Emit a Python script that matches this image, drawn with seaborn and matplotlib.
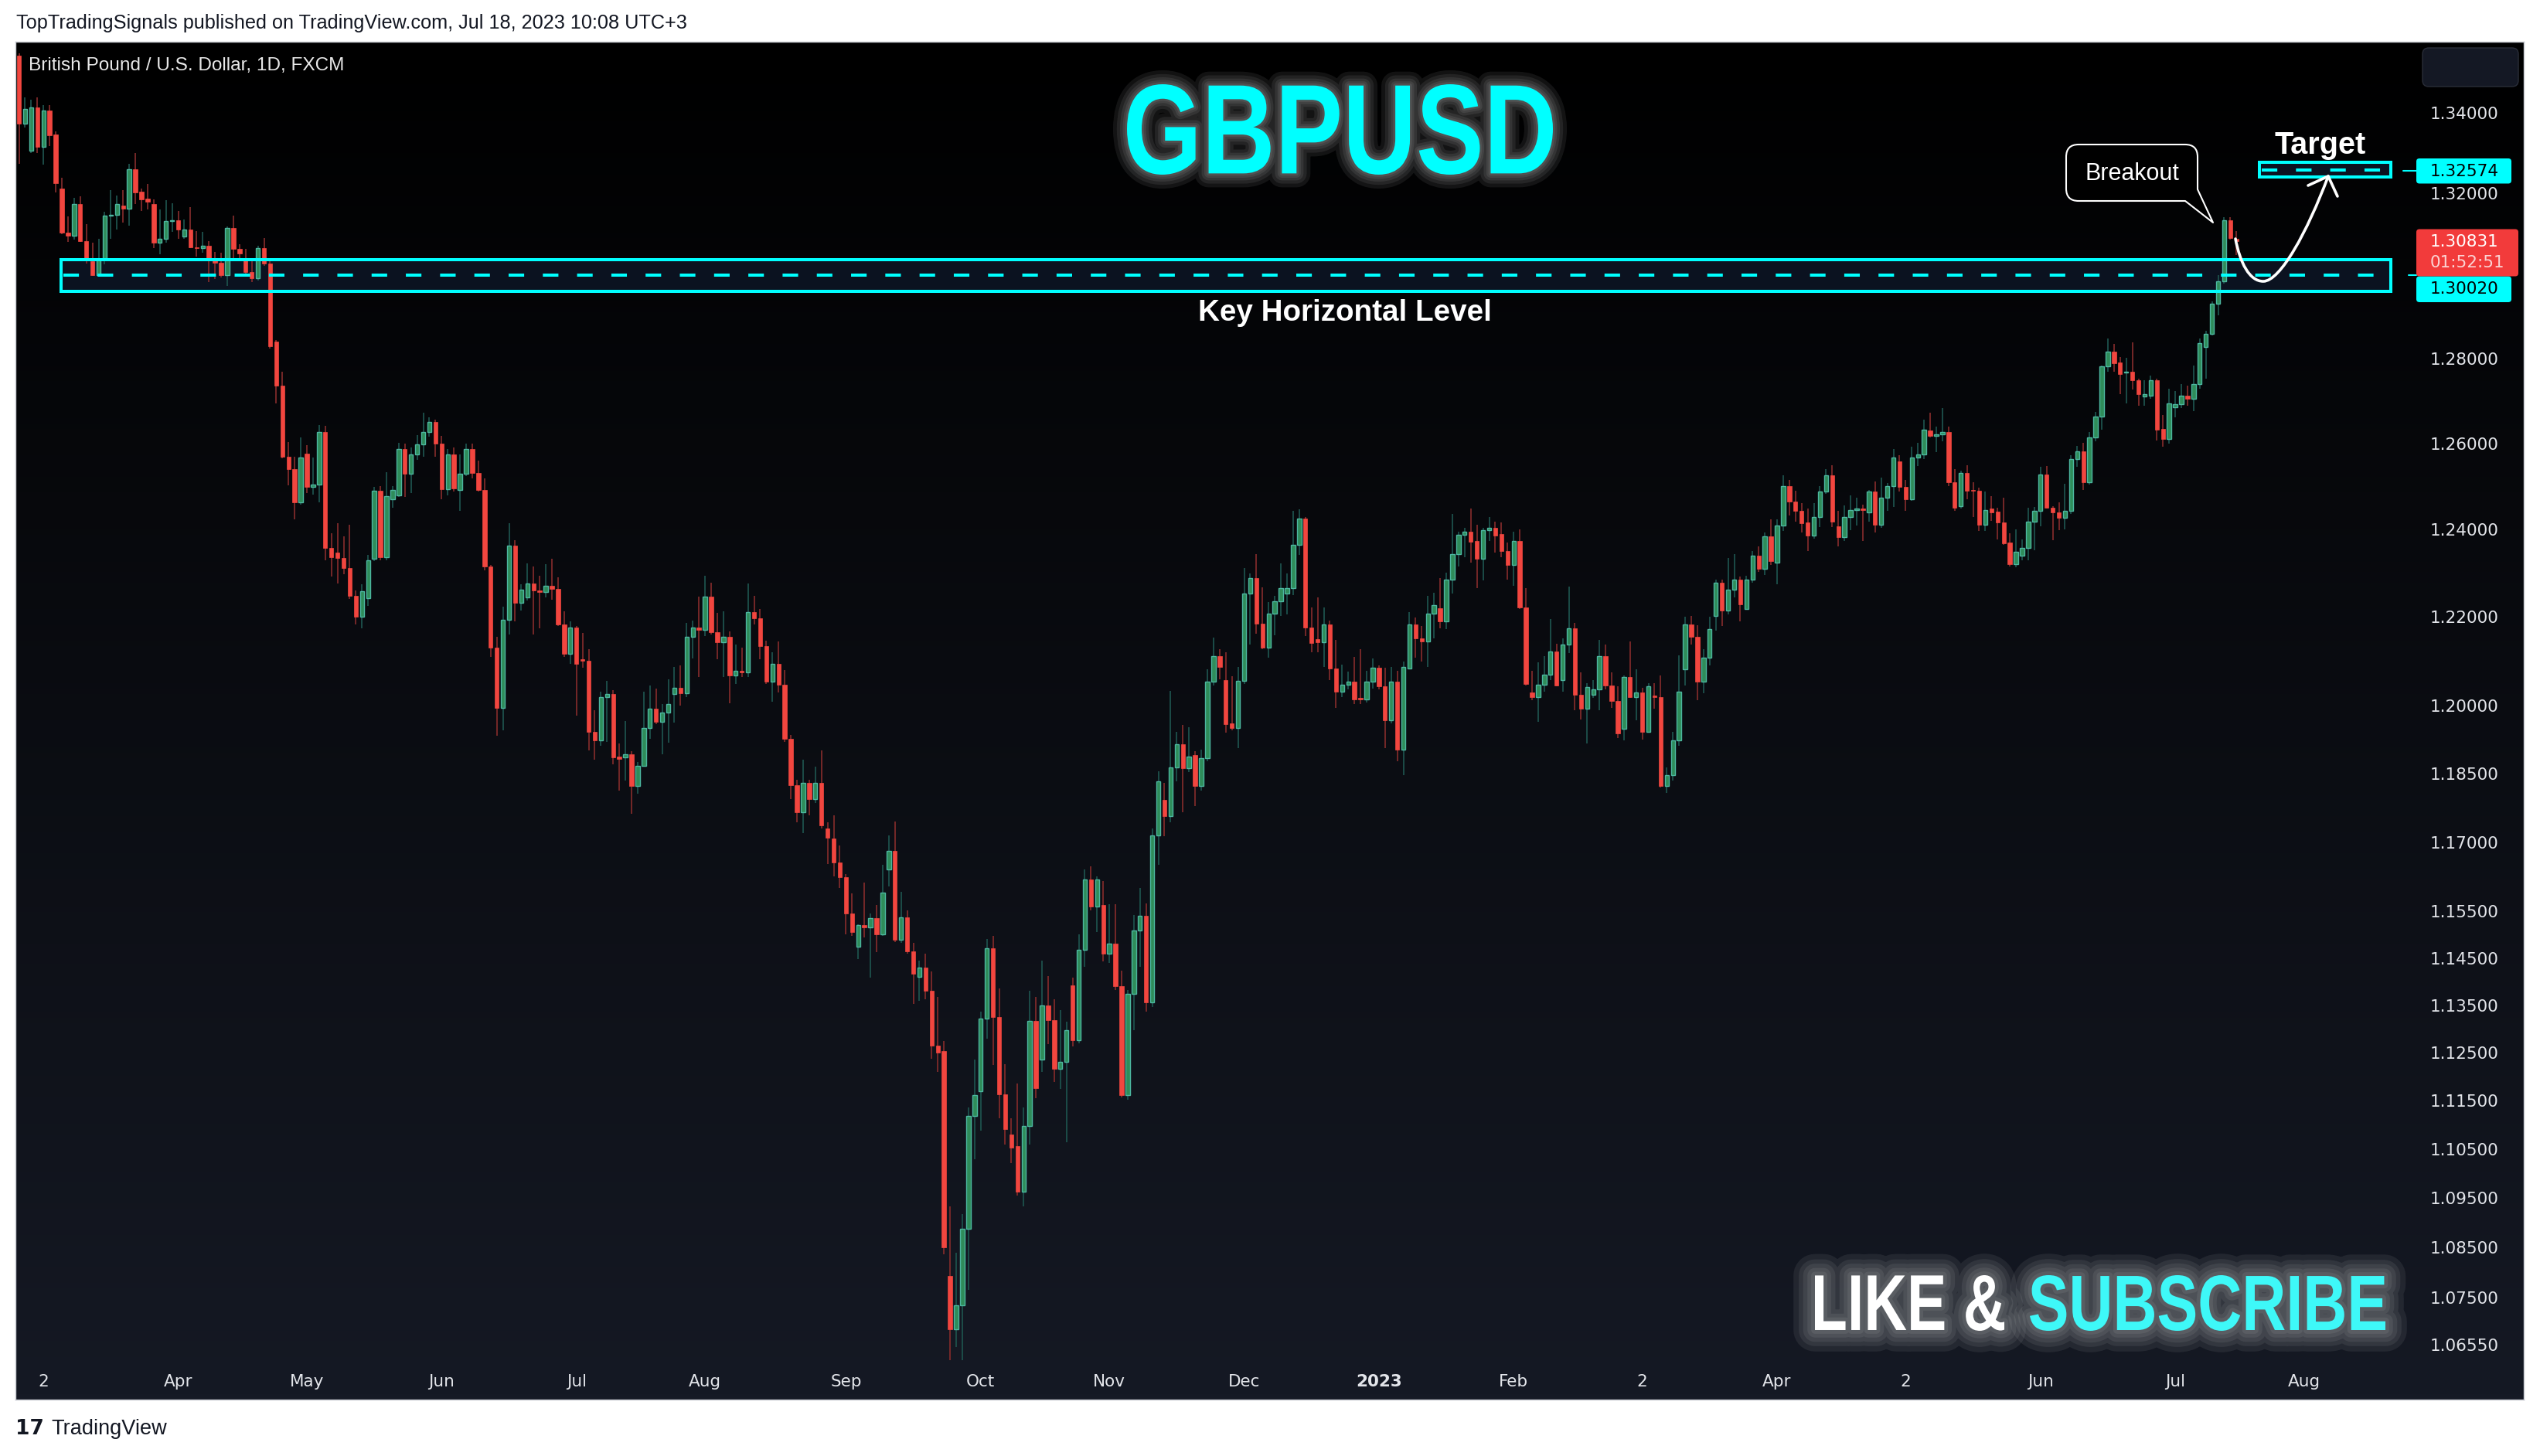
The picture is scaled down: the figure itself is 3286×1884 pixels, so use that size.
import numpy as np
import pandas as pd
import matplotlib
matplotlib.use("Agg")
import matplotlib.pyplot as plt
import seaborn as sns
from matplotlib.colors import LinearSegmentedColormap
from matplotlib.patches import Rectangle, FancyBboxPatch, PathPatch
from matplotlib.path import Path
from matplotlib.textpath import TextPath
from matplotlib.font_manager import FontProperties
from matplotlib.transforms import Affine2D

W, H = 3286, 1884

# ---- daily GBPUSD candles (FXCM), first candle 2022-02-24 ----
first_day = "2022-02-24"

open_ = [
    1.3542, 1.3372, 1.3306, 1.3414, 1.3316, 1.3405, 1.3345, 1.3213, 1.3105, 1.3097,
    1.3175, 1.3084, 1.3034, 1.3002, 1.3041, 1.3146, 1.3148, 1.3170, 1.3162, 1.3260,
    1.3204, 1.3187, 1.3175, 1.3079, 1.3090, 1.3132, 1.3134, 1.3095, 1.3112, 1.3069,
    1.3067, 1.3072, 1.3036, 1.3032, 1.3001, 1.3116, 1.3065, 1.3041, 1.3008, 1.2994,
    1.3067, 1.3029, 1.2842, 1.2737, 1.2570, 1.2540, 1.2464, 1.2577, 1.2499, 1.2504,
    1.2628, 1.2357, 1.2348, 1.2335, 1.2312, 1.2249, 1.2200, 1.2243, 1.2333, 1.2490,
    1.2337, 1.2470, 1.2480, 1.2587, 1.2529, 1.2575, 1.2598, 1.2627, 1.2650, 1.2600,
    1.2494, 1.2575, 1.2492, 1.2529, 1.2587, 1.2531, 1.2492, 1.2315, 1.2131, 1.1996,
    1.2193, 1.2364, 1.2232, 1.2245, 1.2276, 1.2260, 1.2257, 1.2271, 1.2264, 1.2183,
    1.2117, 1.2176, 1.2104, 1.2101, 1.1943, 1.1923, 1.2020, 1.2027, 1.1887, 1.1885,
    1.1893, 1.1823, 1.1867, 1.1950, 1.1993, 1.1965, 1.1985, 1.2026, 1.2040, 1.2029,
    1.2155, 1.2176, 1.2171, 1.2246, 1.2165, 1.2143, 1.2155, 1.2068, 1.2078, 1.2075,
    1.2211, 1.2197, 1.2134, 1.2054, 1.2094, 1.2048, 1.1926, 1.1825, 1.1765, 1.1829,
    1.1794, 1.1829, 1.1730, 1.1707, 1.1655, 1.1624, 1.1546, 1.1475, 1.1520, 1.1516,
    1.1535, 1.1500, 1.1641, 1.1681, 1.1490, 1.1538, 1.1464, 1.1410, 1.1430, 1.1381,
    1.1265, 1.1254, 1.0793, 1.0687, 1.0734, 1.0888, 1.1119, 1.1170, 1.1322, 1.1471,
    1.1326, 1.1163, 1.1080, 1.1056, 1.0963, 1.1098, 1.1317, 1.1236, 1.1350, 1.1319,
    1.1217, 1.1232, 1.1392, 1.1276, 1.1468, 1.1618, 1.1560, 1.1563, 1.1460, 1.1481,
    1.1391, 1.1162, 1.1374, 1.1509, 1.1541, 1.1356, 1.1715, 1.1792, 1.1756, 1.1864,
    1.1914, 1.1862, 1.1891, 1.1823, 1.1884, 1.2054, 1.2112, 1.2058, 1.1961, 1.1951,
    1.2056, 1.2253, 1.2289, 1.2185, 1.2130, 1.2208, 1.2236, 1.2253, 1.2265, 1.2365,
    1.2426, 1.2177, 1.2150, 1.2143, 1.2183, 1.2084, 1.2031, 1.2048, 1.2054, 1.2018,
    1.2015, 1.2054, 1.2086, 1.2044, 1.1968, 1.2054, 1.1903, 1.2084, 1.2183, 1.2151,
    1.2145, 1.2207, 1.2220, 1.2190, 1.2285, 1.2344, 1.2388, 1.2396, 1.2373, 1.2333,
    1.2398, 1.2405, 1.2389, 1.2350, 1.2318, 1.2374, 1.2222, 1.2030, 1.2019, 1.2047,
    1.2070, 1.2122, 1.2058, 1.2137, 1.2175, 1.2025, 1.1993, 1.2025, 1.2037, 1.2112,
    1.2045, 1.2011, 1.1949, 1.2064, 1.2020, 1.2030, 1.1943, 1.2024, 1.2019, 1.1823,
    1.1846, 1.1923, 1.2082, 1.2183, 1.2156, 1.2055, 1.2109, 1.2202, 1.2279, 1.2215,
    1.2262, 1.2285, 1.2219, 1.2286, 1.2341, 1.2310, 1.2385, 1.2325, 1.2410, 1.2501,
    1.2465, 1.2443, 1.2417, 1.2387, 1.2429, 1.2489, 1.2526, 1.2408, 1.2383, 1.2429,
    1.2445, 1.2449, 1.2440, 1.2489, 1.2411, 1.2473, 1.2500, 1.2559, 1.2499, 1.2471,
    1.2567, 1.2575, 1.2631, 1.2619, 1.2621, 1.2627, 1.2510, 1.2454, 1.2531, 1.2492,
    1.2490, 1.2412, 1.2449, 1.2441, 1.2416, 1.2370, 1.2321, 1.2340, 1.2357, 1.2418,
    1.2443, 1.2527, 1.2451, 1.2440, 1.2428, 1.2443, 1.2563, 1.2582, 1.2509, 1.2614,
    1.2664, 1.2782, 1.2818, 1.2791, 1.2767, 1.2770, 1.2750, 1.2711, 1.2712, 1.2750,
    1.2635, 1.2611, 1.2686, 1.2693, 1.2713, 1.2706, 1.2741, 1.2829, 1.2860, 1.2932,
    1.2986, 1.3135, 1.3089,
]

high = [
    1.3549, 1.3438, 1.3432, 1.3438, 1.3419, 1.3419, 1.3354, 1.3238, 1.3144, 1.3190,
    1.3194, 1.3125, 1.3079, 1.3089, 1.3155, 1.3208, 1.3196, 1.3208, 1.3274, 1.3299,
    1.3213, 1.3223, 1.3185, 1.3161, 1.3183, 1.3177, 1.3158, 1.3137, 1.3167, 1.3109,
    1.3107, 1.3084, 1.3058, 1.3056, 1.3120, 1.3146, 1.3077, 1.3065, 1.3041, 1.3072,
    1.3091, 1.3036, 1.2846, 1.2769, 1.2603, 1.2570, 1.2614, 1.2597, 1.2567, 1.2644,
    1.2641, 1.2392, 1.2414, 1.2385, 1.2412, 1.2261, 1.2274, 1.2342, 1.2499, 1.2501,
    1.2534, 1.2501, 1.2601, 1.2600, 1.2591, 1.2620, 1.2673, 1.2662, 1.2657, 1.2618,
    1.2587, 1.2591, 1.2575, 1.2600, 1.2600, 1.2561, 1.2519, 1.2319, 1.2155, 1.2224,
    1.2414, 1.2376, 1.2275, 1.2322, 1.2315, 1.2294, 1.2320, 1.2333, 1.2291, 1.2213,
    1.2190, 1.2179, 1.2164, 1.2127, 1.1990, 1.2032, 1.2056, 1.2035, 1.1917, 1.1967,
    1.1900, 1.1876, 1.2032, 1.2045, 1.2038, 1.2005, 1.2060, 1.2087, 1.2090, 1.2186,
    1.2192, 1.2246, 1.2294, 1.2279, 1.2209, 1.2213, 1.2167, 1.2137, 1.2131, 1.2276,
    1.2249, 1.2218, 1.2146, 1.2120, 1.2144, 1.2080, 1.1935, 1.1837, 1.1880, 1.1837,
    1.1865, 1.1901, 1.1743, 1.1759, 1.1693, 1.1630, 1.1589, 1.1523, 1.1612, 1.1546,
    1.1563, 1.1650, 1.1715, 1.1745, 1.1592, 1.1552, 1.1483, 1.1444, 1.1460, 1.1421,
    1.1367, 1.1275, 1.0934, 1.0840, 1.0918, 1.1137, 1.1236, 1.1337, 1.1491, 1.1498,
    1.1385, 1.1227, 1.1114, 1.1186, 1.1137, 1.1380, 1.1368, 1.1444, 1.1412, 1.1362,
    1.1340, 1.1316, 1.1409, 1.1500, 1.1641, 1.1647, 1.1626, 1.1615, 1.1566, 1.1566,
    1.1423, 1.1383, 1.1542, 1.1601, 1.1567, 1.1730, 1.1855, 1.1830, 1.2033, 1.1943,
    1.1958, 1.1953, 1.1900, 1.1903, 1.2082, 1.2154, 1.2128, 1.2120, 1.2066, 1.2087,
    1.2312, 1.2300, 1.2344, 1.2268, 1.2234, 1.2249, 1.2322, 1.2299, 1.2444, 1.2447,
    1.2430, 1.2222, 1.2244, 1.2222, 1.2192, 1.2149, 1.2092, 1.2077, 1.2110, 1.2128,
    1.2079, 1.2106, 1.2090, 1.2086, 1.2087, 1.2079, 1.2100, 1.2211, 1.2199, 1.2179,
    1.2249, 1.2256, 1.2288, 1.2302, 1.2436, 1.2396, 1.2404, 1.2449, 1.2412, 1.2404,
    1.2430, 1.2418, 1.2416, 1.2371, 1.2396, 1.2400, 1.2266, 1.2079, 1.2097, 1.2112,
    1.2195, 1.2140, 1.2152, 1.2270, 1.2186, 1.2076, 1.2051, 1.2058, 1.2149, 1.2137,
    1.2076, 1.2044, 1.2068, 1.2144, 1.2082, 1.2040, 1.2051, 1.2051, 1.2068, 1.1864,
    1.1942, 1.2114, 1.2201, 1.2203, 1.2182, 1.2128, 1.2201, 1.2285, 1.2285, 1.2335,
    1.2344, 1.2292, 1.2294, 1.2350, 1.2362, 1.2393, 1.2424, 1.2424, 1.2526, 1.2516,
    1.2490, 1.2461, 1.2449, 1.2461, 1.2500, 1.2540, 1.2550, 1.2444, 1.2456, 1.2479,
    1.2474, 1.2458, 1.2492, 1.2512, 1.2520, 1.2508, 1.2587, 1.2573, 1.2515, 1.2593,
    1.2602, 1.2656, 1.2672, 1.2640, 1.2683, 1.2640, 1.2540, 1.2537, 1.2550, 1.2510,
    1.2498, 1.2489, 1.2477, 1.2451, 1.2474, 1.2392, 1.2400, 1.2378, 1.2451, 1.2452,
    1.2545, 1.2548, 1.2455, 1.2464, 1.2506, 1.2572, 1.2594, 1.2602, 1.2627, 1.2674,
    1.2785, 1.2849, 1.2835, 1.2805, 1.2802, 1.2840, 1.2753, 1.2750, 1.2761, 1.2753,
    1.2667, 1.2730, 1.2724, 1.2740, 1.2737, 1.2784, 1.2849, 1.2868, 1.2938, 1.3002,
    1.3142, 1.3143, 1.3108,
]

low = [
    1.3274, 1.3364, 1.3300, 1.3299, 1.3272, 1.3317, 1.3202, 1.3100, 1.3082, 1.3087,
    1.3082, 1.3030, 1.3000, 1.2998, 1.3027, 1.3089, 1.3112, 1.3129, 1.3122, 1.3175,
    1.3158, 1.3161, 1.3067, 1.3052, 1.3079, 1.3107, 1.3089, 1.3089, 1.3067, 1.3046,
    1.3056, 1.2985, 1.2992, 1.2996, 1.2975, 1.3036, 1.3041, 1.3003, 1.2985, 1.2989,
    1.3024, 1.2824, 1.2695, 1.2565, 1.2503, 1.2424, 1.2457, 1.2484, 1.2481, 1.2464,
    1.2330, 1.2293, 1.2277, 1.2297, 1.2241, 1.2183, 1.2175, 1.2225, 1.2328, 1.2330,
    1.2330, 1.2451, 1.2476, 1.2476, 1.2485, 1.2562, 1.2570, 1.2617, 1.2569, 1.2470,
    1.2479, 1.2488, 1.2444, 1.2524, 1.2519, 1.2488, 1.2306, 1.2110, 1.1934, 1.1945,
    1.2160, 1.2190, 1.2215, 1.2238, 1.2161, 1.2174, 1.2245, 1.2239, 1.2179, 1.2110,
    1.2095, 1.1979, 1.2085, 1.1901, 1.1880, 1.1911, 1.1920, 1.1870, 1.1813, 1.1835,
    1.1762, 1.1806, 1.1865, 1.1927, 1.1959, 1.1892, 1.1919, 1.1962, 1.2000, 1.2019,
    1.2106, 1.2064, 1.2157, 1.2161, 1.2104, 1.2064, 1.2006, 1.2049, 1.2064, 1.2064,
    1.2184, 1.2104, 1.2050, 1.2010, 1.2030, 1.1920, 1.1794, 1.1743, 1.1720, 1.1759,
    1.1786, 1.1730, 1.1652, 1.1626, 1.1601, 1.1500, 1.1498, 1.1448, 1.1495, 1.1408,
    1.1463, 1.1498, 1.1603, 1.1485, 1.1483, 1.1460, 1.1353, 1.1359, 1.1362, 1.1237,
    1.1211, 1.0836, 1.0350, 1.0651, 1.0540, 1.0765, 1.1030, 1.1089, 1.1279, 1.1225,
    1.1114, 1.1060, 1.1022, 1.0955, 1.0933, 1.1060, 1.1155, 1.1211, 1.1269, 1.1189,
    1.1175, 1.1065, 1.1263, 1.1270, 1.1432, 1.1552, 1.1506, 1.1443, 1.1440, 1.1383,
    1.1158, 1.1153, 1.1297, 1.1432, 1.1337, 1.1347, 1.1650, 1.1713, 1.1743, 1.1833,
    1.1765, 1.1853, 1.1779, 1.1813, 1.1877, 1.2046, 1.2059, 1.1941, 1.1946, 1.1906,
    1.2050, 1.2137, 1.2163, 1.2128, 1.2108, 1.2158, 1.2202, 1.2206, 1.2250, 1.2342,
    1.2157, 1.2121, 1.2121, 1.2088, 1.2058, 1.1995, 1.2020, 1.2037, 1.2005, 1.2005,
    1.2008, 1.2039, 1.2037, 1.1906, 1.1961, 1.1877, 1.1846, 1.2082, 1.2109, 1.2100,
    1.2088, 1.2151, 1.2174, 1.2173, 1.2253, 1.2315, 1.2336, 1.2325, 1.2265, 1.2284,
    1.2374, 1.2347, 1.2337, 1.2286, 1.2272, 1.2218, 1.2045, 1.2012, 1.1965, 1.2032,
    1.2058, 1.2044, 1.2032, 1.2119, 1.1991, 1.1969, 1.1917, 1.2018, 1.1990, 1.2037,
    1.1995, 1.1929, 1.1924, 1.2018, 1.1968, 1.1925, 1.1940, 1.1993, 1.1820, 1.1808,
    1.1834, 1.1911, 1.2046, 1.2137, 1.2013, 1.2029, 1.2091, 1.2169, 1.2180, 1.2206,
    1.2244, 1.2191, 1.2216, 1.2279, 1.2303, 1.2295, 1.2318, 1.2275, 1.2397, 1.2433,
    1.2418, 1.2394, 1.2351, 1.2380, 1.2406, 1.2483, 1.2406, 1.2361, 1.2374, 1.2398,
    1.2410, 1.2374, 1.2418, 1.2393, 1.2405, 1.2444, 1.2453, 1.2488, 1.2444, 1.2467,
    1.2547, 1.2563, 1.2614, 1.2581, 1.2605, 1.2500, 1.2444, 1.2448, 1.2471, 1.2430,
    1.2397, 1.2397, 1.2420, 1.2378, 1.2365, 1.2315, 1.2313, 1.2329, 1.2329, 1.2353,
    1.2407, 1.2448, 1.2375, 1.2398, 1.2401, 1.2436, 1.2545, 1.2492, 1.2504, 1.2605,
    1.2633, 1.2769, 1.2769, 1.2716, 1.2695, 1.2728, 1.2689, 1.2690, 1.2706, 1.2608,
    1.2593, 1.2600, 1.2661, 1.2683, 1.2690, 1.2676, 1.2730, 1.2753, 1.2857, 1.2905,
    1.2981, 1.3088, 1.3050,
]

close = [
    1.3372, 1.3409, 1.3414, 1.3316, 1.3405, 1.3343, 1.3225, 1.3104, 1.3097, 1.3175,
    1.3084, 1.3036, 1.3002, 1.3041, 1.3146, 1.3148, 1.3175, 1.3162, 1.3260, 1.3202,
    1.3185, 1.3180, 1.3079, 1.3090, 1.3132, 1.3134, 1.3112, 1.3112, 1.3069, 1.3067,
    1.3072, 1.3036, 1.3032, 1.3001, 1.3116, 1.3065, 1.3053, 1.3008, 1.2994, 1.3067,
    1.3029, 1.2831, 1.2737, 1.2570, 1.2540, 1.2464, 1.2567, 1.2499, 1.2504, 1.2628,
    1.2357, 1.2337, 1.2335, 1.2312, 1.2249, 1.2200, 1.2259, 1.2330, 1.2490, 1.2337,
    1.2477, 1.2492, 1.2587, 1.2529, 1.2575, 1.2598, 1.2627, 1.2650, 1.2600, 1.2494,
    1.2575, 1.2496, 1.2529, 1.2587, 1.2531, 1.2492, 1.2315, 1.2131, 1.1996, 1.2193,
    1.2364, 1.2232, 1.2262, 1.2276, 1.2260, 1.2257, 1.2271, 1.2264, 1.2183, 1.2117,
    1.2176, 1.2095, 1.2101, 1.1943, 1.1923, 1.2020, 1.2027, 1.1885, 1.1883, 1.1892,
    1.1823, 1.1867, 1.1950, 1.1993, 1.1965, 1.1985, 1.2004, 1.2040, 1.2029, 1.2155,
    1.2176, 1.2171, 1.2246, 1.2165, 1.2143, 1.2155, 1.2068, 1.2078, 1.2075, 1.2211,
    1.2197, 1.2134, 1.2054, 1.2094, 1.2048, 1.1926, 1.1825, 1.1765, 1.1829, 1.1794,
    1.1829, 1.1736, 1.1709, 1.1655, 1.1624, 1.1546, 1.1506, 1.1520, 1.1516, 1.1535,
    1.1500, 1.1590, 1.1681, 1.1490, 1.1538, 1.1464, 1.1417, 1.1430, 1.1381, 1.1265,
    1.1251, 1.0850, 1.0687, 1.0734, 1.0888, 1.1119, 1.1162, 1.1322, 1.1471, 1.1326,
    1.1163, 1.1092, 1.1054, 1.0963, 1.1098, 1.1317, 1.1177, 1.1350, 1.1319, 1.1217,
    1.1232, 1.1297, 1.1276, 1.1468, 1.1618, 1.1560, 1.1618, 1.1460, 1.1481, 1.1391,
    1.1162, 1.1374, 1.1509, 1.1541, 1.1356, 1.1715, 1.1833, 1.1756, 1.1864, 1.1914,
    1.1862, 1.1888, 1.1823, 1.1884, 1.2054, 1.2112, 1.2087, 1.1960, 1.1951, 1.2056,
    1.2253, 1.2289, 1.2185, 1.2130, 1.2208, 1.2236, 1.2265, 1.2265, 1.2365, 1.2426,
    1.2177, 1.2141, 1.2143, 1.2183, 1.2084, 1.2031, 1.2048, 1.2054, 1.2015, 1.2015,
    1.2054, 1.2086, 1.2044, 1.1968, 1.2054, 1.1903, 1.2088, 1.2183, 1.2151, 1.2145,
    1.2207, 1.2227, 1.2190, 1.2285, 1.2344, 1.2388, 1.2396, 1.2372, 1.2333, 1.2398,
    1.2405, 1.2387, 1.2350, 1.2318, 1.2374, 1.2222, 1.2049, 1.2019, 1.2047, 1.2070,
    1.2122, 1.2046, 1.2137, 1.2175, 1.2025, 1.1993, 1.2043, 1.2037, 1.2112, 1.2045,
    1.2011, 1.1938, 1.2064, 1.2020, 1.2030, 1.1943, 1.2044, 1.2019, 1.1823, 1.1846,
    1.1923, 1.2031, 1.2183, 1.2156, 1.2055, 1.2109, 1.2173, 1.2279, 1.2215, 1.2262,
    1.2285, 1.2228, 1.2286, 1.2341, 1.2310, 1.2385, 1.2328, 1.2410, 1.2501, 1.2465,
    1.2443, 1.2415, 1.2387, 1.2429, 1.2489, 1.2526, 1.2418, 1.2383, 1.2429, 1.2445,
    1.2449, 1.2446, 1.2489, 1.2411, 1.2473, 1.2500, 1.2567, 1.2499, 1.2471, 1.2567,
    1.2575, 1.2633, 1.2619, 1.2621, 1.2627, 1.2510, 1.2450, 1.2531, 1.2490, 1.2490,
    1.2412, 1.2445, 1.2440, 1.2416, 1.2369, 1.2320, 1.2349, 1.2357, 1.2418, 1.2443,
    1.2527, 1.2451, 1.2440, 1.2428, 1.2443, 1.2563, 1.2582, 1.2509, 1.2614, 1.2664,
    1.2782, 1.2818, 1.2790, 1.2765, 1.2770, 1.2750, 1.2716, 1.2716, 1.2750, 1.2633,
    1.2611, 1.2695, 1.2693, 1.2713, 1.2706, 1.2741, 1.2838, 1.2860, 1.2932, 1.2986,
    1.3135, 1.3091, 1.3083,
]

# price scale labels shown on the right
price_ticks = [1.34, 1.32, 1.28, 1.26, 1.24, 1.22, 1.20, 1.185, 1.17, 1.155,
               1.145, 1.135, 1.125, 1.115, 1.105, 1.095, 1.085, 1.075, 1.0655]

# time scale labels (date of the labelled bar, text)
time_labels = [
    ("2022-03-02", "2"), ("2022-04-01", "Apr"), ("2022-05-02", "May"),
    ("2022-06-01", "Jun"), ("2022-07-01", "Jul"), ("2022-08-01", "Aug"),
    ("2022-09-01", "Sep"), ("2022-10-03", "Oct"), ("2022-11-01", "Nov"),
    ("2022-12-01", "Dec"), ("2023-01-02", "2023"), ("2023-02-01", "Feb"),
    ("2023-03-02", "2"), ("2023-04-03", "Apr"), ("2023-05-02", "2"),
    ("2023-06-01", "Jun"), ("2023-07-03", "Jul"), ("2023-08-01", "Aug"),
]

key_level = 1.30020
key_zone = (1.29624, 1.30394)
target_level = 1.32574
target_zone = (1.32406, 1.32774)
last_price = 1.30831
countdown = "01:52:51"

# ---- colours ----
CYAN = "#00ffff"
UP_FACE, UP_EDGE, UP_WICK = "#2f8c5a", "#4cb7a0", "#1d514c"
DN_FACE, DN_WICK = "#f2463f", "#7e2a2a"
ZONE_FILL = "#0b1220"
LABEL = "#e3e5ea"

n = len(close)
assert len(open_) == n and len(high) == n and len(low) == n, (len(open_), len(high), len(low), n)

sns.set_theme(style="dark", rc={"axes.facecolor": "none", "figure.facecolor": "white"})
plt.rcParams["font.family"] = ["DejaVu Sans"]

fig = plt.figure(figsize=(W / 100, H / 100), dpi=100, facecolor="white")


def px_rect(x0, y0, x1, y1):
    return [x0 / W, 1 - y1 / H, (x1 - x0) / W, (y1 - y0) / H]


# dark chart panel with vertical gradient
bg = fig.add_axes(px_rect(20, 54, 3265, 1811))
grad = np.linspace(0, 1, 256).reshape(-1, 1)
bg.imshow(grad, aspect="auto", extent=[0, 1, 0, 1], origin="upper",
          cmap=LinearSegmentedColormap.from_list("tv", ["#000000", "#151924"]))
bg.set_xticks([])
bg.set_yticks([])
for sp in bg.spines.values():
    sp.set_visible(True)
    sp.set_color("#c5c8cf")
    sp.set_linewidth(1)

# price pane
ax = fig.add_axes(px_rect(20, 54, 3120, 1760))
ax.patch.set_alpha(0)
ax.set_yscale("log")

o = np.array(open_)
c = np.array(close)
hi = np.maximum(np.array(high), np.maximum(o, c))
lo = np.minimum(np.array(low), np.minimum(o, c))
x = np.arange(n)
up = c >= o

ax.vlines(x[up], lo[up], hi[up], colors=UP_WICK, linewidth=1.3, zorder=3)
ax.vlines(x[~up], lo[~up], hi[~up], colors=DN_WICK, linewidth=1.3, zorder=3)
body_lo = np.minimum(o, c)
body_h = np.maximum(np.abs(c - o), 0.00025)
ax.bar(x[up], body_h[up], bottom=body_lo[up], width=0.68, color=UP_FACE,
       edgecolor=UP_EDGE, linewidth=1.0, zorder=4)
ax.bar(x[~up], body_h[~up], bottom=body_lo[~up], width=0.68, color=DN_FACE,
       edgecolor=DN_FACE, linewidth=0.5, zorder=4)

# key horizontal level zone and target zone
for (x0, x1), (z0, z1), lvl in [((6.88, 387.2), key_zone, key_level),
                                ((365.7, 387.2), target_zone, target_level)]:
    ax.add_patch(Rectangle((x0, z0), x1 - x0, z1 - z0, facecolor=ZONE_FILL,
                           edgecolor="none", zorder=1))
    ax.add_patch(Rectangle((x0, z0), x1 - x0, z1 - z0, facecolor="none",
                           edgecolor=CYAN, linewidth=2.9, zorder=6))
    ax.hlines(lvl, x0 + 0.4, x1 - 0.4, colors=CYAN, linewidth=2.9,
              linestyles=[(0, (5, 6))], zorder=6)

ax.set_xlim(-0.57, 390.6)
ax.set_ylim(1.0625, 1.3578)
ax.grid(False)
sns.despine(ax=ax, left=True, bottom=True)

ax.yaxis.tick_right()
ax.set_yticks(price_ticks, labels=[f"{t:.5f}" for t in price_ticks])
ax.set_yticks([], minor=True)
ax.tick_params(axis="y", which="both", length=0, pad=17, labelsize=15.5, labelcolor=LABEL)

axis_days = pd.bdate_range(first_day, "2023-08-31")
tick_pos = [axis_days.get_loc(pd.Timestamp(d)) for d, _ in time_labels]
ax.set_xticks(tick_pos, labels=[t for _, t in time_labels])
ax.tick_params(axis="x", length=0, pad=13, labelsize=15.5, labelcolor=LABEL)
for lab in ax.get_xticklabels():
    if lab.get_text() == "2023":
        lab.set_fontweight("bold")

# ---- overlay in pixel coordinates for drawings and captions ----
ov = fig.add_axes([0, 0, 1, 1])
ov.set_xlim(0, W)
ov.set_ylim(H, 0)
ov.axis("off")
ov.patch.set_alpha(0)


def glow_text(s, x0, y0, w, h, color, glow, alpha):
    prop = FontProperties(family="Liberation Sans", weight="bold")
    tp = TextPath((0, 0), s, size=100, prop=prop)
    ext = tp.get_extents()
    tr = (Affine2D().translate(-ext.x0, -ext.y0)
          .scale(w / ext.width, -h / ext.height)
          .translate(x0, y0 + h))
    path = tr.transform_path(tp)
    for lw in glow:
        ov.add_patch(PathPatch(path, facecolor="none", edgecolor="white", lw=lw,
                               alpha=alpha, joinstyle="round", capstyle="round", zorder=5))
    ov.add_patch(PathPatch(path, facecolor=color, edgecolor="none", zorder=7))


glow_text("GBPUSD", 1458, 109, 551, 117, CYAN, [26, 19, 13, 8, 4], 0.075)
glow_text("LIKE &", 2348, 1650, 245, 72, "white", [40, 30, 22, 14, 7], 0.07)
glow_text("SUBSCRIBE", 2626, 1650, 460, 72, "#3ef8f8", [40, 30, 22, 14, 7], 0.07)

ov.text(21, 30, "TopTradingSignals published on TradingView.com, Jul 18, 2023 10:08 UTC+3",
        fontsize=18.2, color="#131722", ha="left", va="center", family="Liberation Sans")
ov.text(37, 85, "British Pound / U.S. Dollar, 1D, FXCM", fontsize=17.6, color="#e8e8e8",
        ha="left", va="center", family="Liberation Sans")
ov.text(1740, 415, "Key Horizontal Level", fontsize=27.8, fontweight="bold", color="white",
        ha="center", va="baseline", family="Liberation Sans", zorder=8)
ov.text(3002, 199, "Target", fontsize=28.5, fontweight="bold", color="white",
        ha="center", va="baseline", family="Liberation Sans", zorder=8)

# "Breakout" callout
cx0, cx1, cy0, cy1, r = 2673, 2843, 187, 260, 16
verts = [(cx0 + r, cy0), (cx1 - r, cy0), (cx1, cy0), (cx1, cy0 + r), (cx1, 245),
         (2863, 288), (2827, cy1), (cx0 + r, cy1), (cx0, cy1), (cx0, cy1 - r),
         (cx0, cy0 + r), (cx0, cy0), (cx0 + r, cy0), (cx0 + r, cy0)]
codes = [Path.MOVETO, Path.LINETO, Path.CURVE3, Path.CURVE3, Path.LINETO,
         Path.LINETO, Path.LINETO, Path.LINETO, Path.CURVE3, Path.CURVE3,
         Path.LINETO, Path.CURVE3, Path.CURVE3, Path.CLOSEPOLY]
ov.add_patch(PathPatch(Path(verts, codes), facecolor="#000000", edgecolor="white",
                       lw=1.5, joinstyle="round", zorder=8))
ov.text(2758, 233, "Breakout", fontsize=22, color="white", ha="center", va="baseline",
        family="Liberation Sans", zorder=9)

# projected path arrow
arrow = Path([(2892, 309), (2898, 340), (2910, 364), (2928, 364),
              (2950, 364), (2985, 300), (3012, 228)],
             [Path.MOVETO, Path.CURVE4, Path.CURVE4, Path.CURVE4,
              Path.CURVE4, Path.CURVE4, Path.CURVE4])
ov.add_patch(PathPatch(arrow, facecolor="none", edgecolor="white", lw=2.6,
                       capstyle="round", zorder=9))
ov.plot([2986, 3012, 3024], [240, 228, 254], color="white", lw=2.6,
        solid_capstyle="round", solid_joinstyle="round", zorder=9)


# price scale tags
def tag(y0, y1, x1, fc, zorder=8):
    ov.add_patch(FancyBboxPatch((3126, y0), x1 - 3126, y1 - y0,
                                boxstyle="round,pad=0,rounding_size=4",
                                facecolor=fc, edgecolor="none", zorder=zorder))


ov.plot([3109, 3126], [220.7, 220.7], color=CYAN, lw=1.5, zorder=8)
tag(205, 237.5, 3249, CYAN)
ov.text(3144, 221.5, f"{target_level:.5f}", fontsize=15.5, color="#000000",
        va="center", ha="left", zorder=9)
ov.plot([3116, 3126], [355.7, 355.7], color=CYAN, lw=1.5, zorder=8)
tag(357.5, 391, 3249, CYAN)
ov.text(3144, 374.5, f"{key_level:.5f}", fontsize=15.5, color="#000000",
        va="center", ha="left", zorder=9)
tag(296.5, 357.5, 3258, "#f23b3b", zorder=10)
ov.text(3144, 313, f"{last_price:.5f}", fontsize=15.5, color="white",
        va="center", ha="left", zorder=11)
ov.text(3144, 340, countdown, fontsize=15.5, color="#fbd3d3",
        va="center", ha="left", zorder=11)

# top-right button
ov.add_patch(FancyBboxPatch((3134, 62), 124, 50, boxstyle="round,pad=0,rounding_size=8",
                            facecolor="#141824", edgecolor="#2a2e39", lw=1, zorder=8))

# footer
ov.text(20, 1849, "17", fontsize=19, fontweight="heavy", color="#131722",
        ha="left", va="center", family="DejaVu Sans")
ov.text(66, 1849, "TradingView", fontsize=19.5, color="#131722", ha="left", va="center",
        family="Liberation Sans")

fig.savefig("out.png", dpi=100, facecolor="white")
